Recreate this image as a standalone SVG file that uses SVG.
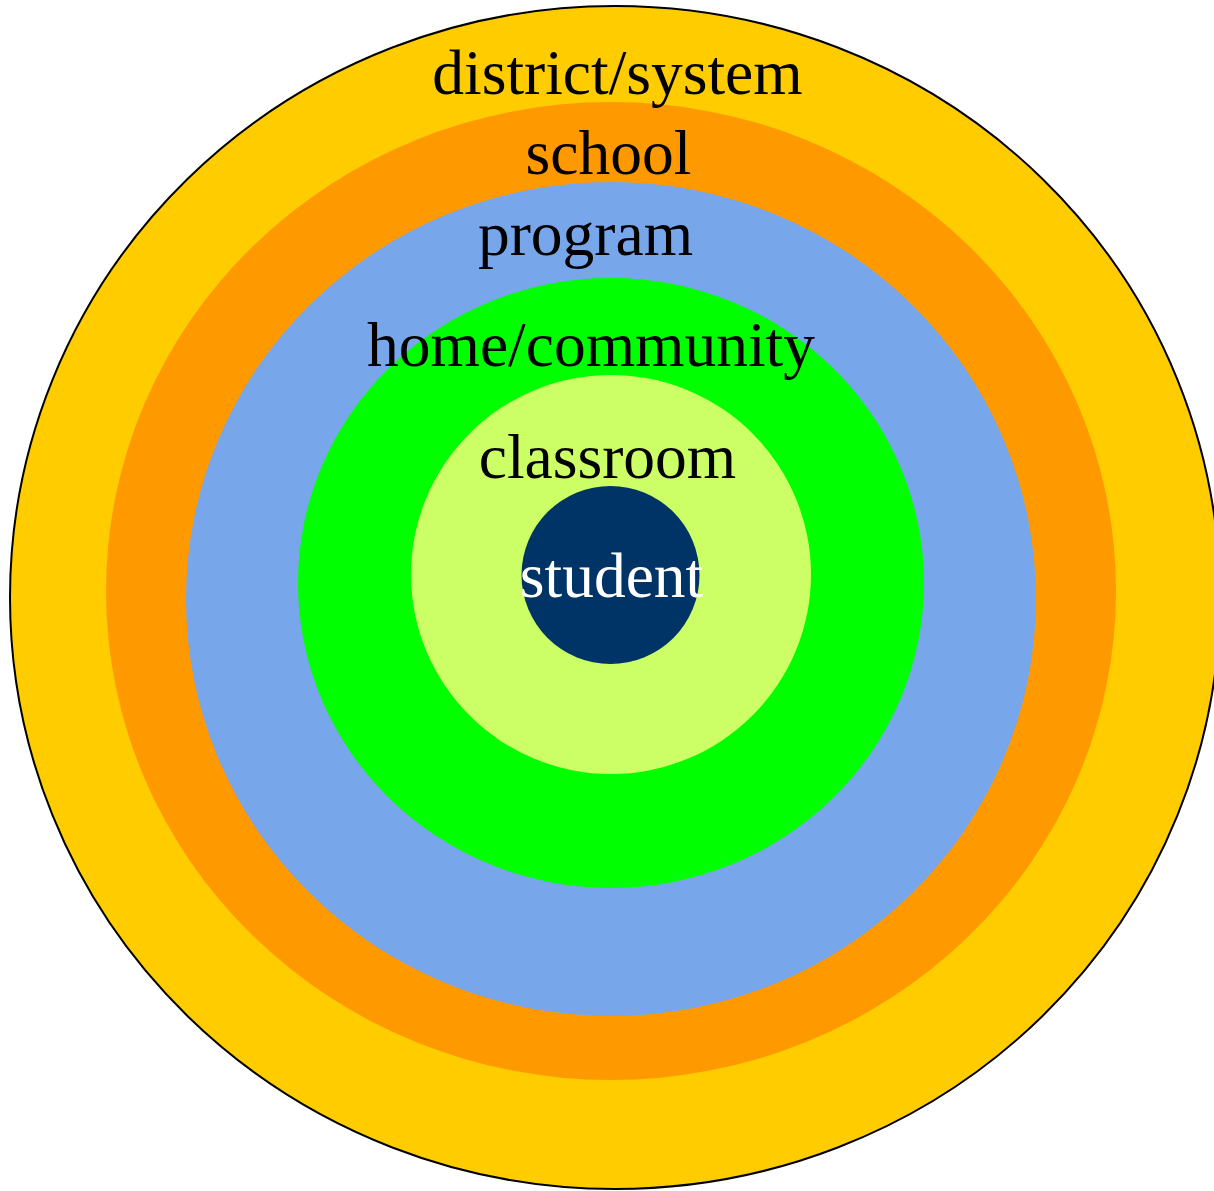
<svg xmlns="http://www.w3.org/2000/svg" width="1214" height="1191" viewBox="0 0 1214 1191">
<style>
.lbl{font-family:"Liberation Serif","Times New Roman",serif;font-size:63.5px;text-anchor:middle;fill:#000}
.w{fill:#fff}
</style>
<rect width="1214" height="1191" fill="#fff"/>
<g id="district">
<ellipse cx="615" cy="597.5" rx="605" ry="591.5" fill="#ffcc00" stroke="#000" stroke-width="2"/>
</g>
<g id="school">
<ellipse cx="611" cy="591" rx="505" ry="489" fill="#ff9900"/>
</g>
<g id="program">
<ellipse cx="611" cy="599" rx="425" ry="417" fill="#77a6eb"/>
</g>
<g id="home">
<ellipse cx="611" cy="583" rx="313" ry="305" fill="#00ff00"/>
</g>
<g id="classroom">
<ellipse cx="611" cy="574.5" rx="200" ry="199.5" fill="#ccff66"/>
</g>
<g id="student">
<circle cx="610.5" cy="575" r="89" fill="#003366"/>
</g>
<g id="labels">
<text class="lbl" x="617.5" y="94">district/system</text>
<text class="lbl" x="608.5" y="174">school</text>
<text class="lbl" x="585.5" y="255">program</text>
<text class="lbl" x="591" y="366">home/community</text>
<text class="lbl" x="607.5" y="478">classroom</text>
<text class="lbl w" x="611.5" y="597">student</text>
</g>
</svg>
